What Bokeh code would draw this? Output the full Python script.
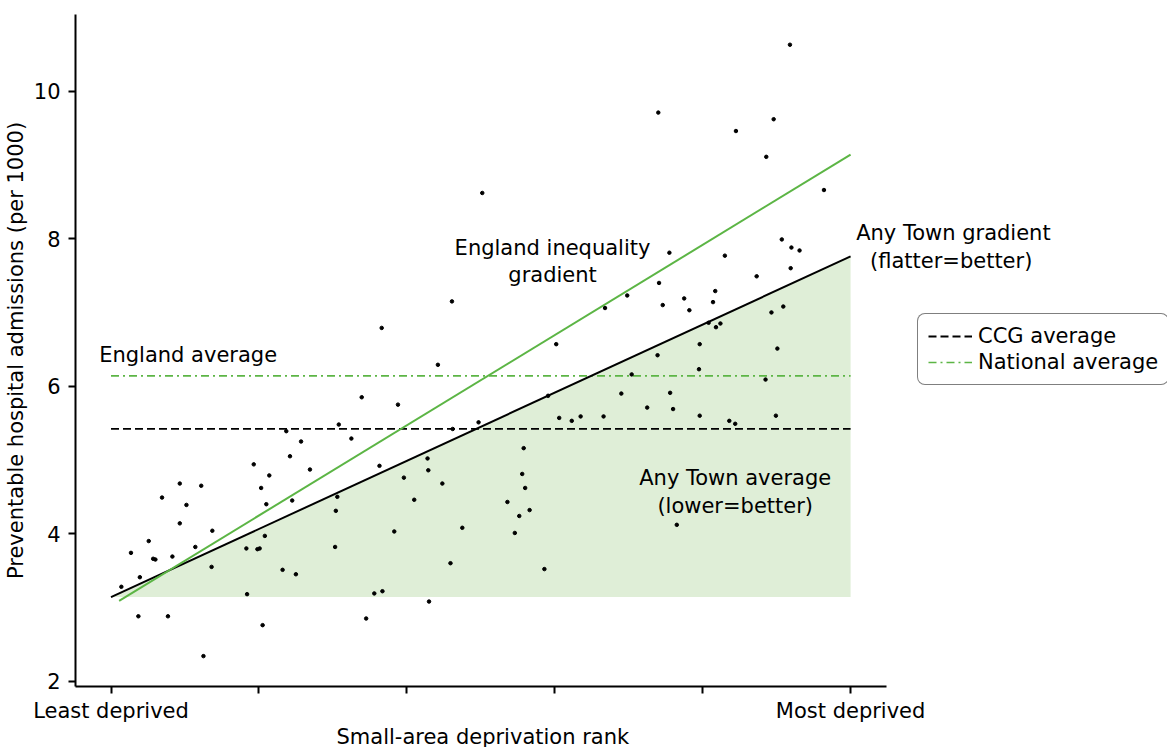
from bokeh.plotting import figure
from bokeh.models import (Label, Legend, LegendItem, FixedTicker, Range1d, Title)
from bokeh.embed import file_html
from bokeh.resources import INLINE

# ---- data ----
rank = [0.339, 0.308, 0.237, 0.325, 0.257, 0.242, 0.193, 0.269, 0.214, 0.093,
        0.122, 0.203, 0.069, 0.306, 0.102, 0.210, 0.245, 0.304, 0.093, 0.137,
        0.208, 0.051, 0.027, 0.114, 0.183, 0.198, 0.201, 0.303, 0.057, 0.060,
        0.083, 0.136, 0.232, 0.250, 0.039, 0.014, 0.184, 0.037, 0.077, 0.345,
        0.205, 0.125,
        0.502, 0.461, 0.366, 0.668, 0.698, 0.602,
        0.442, 0.388, 0.591, 0.690, 0.606, 0.623, 0.635, 0.666, 0.497, 0.462,
        0.558, 0.363, 0.428, 0.429, 0.396, 0.448, 0.556, 0.560, 0.410, 0.536,
        0.566, 0.552, 0.383, 0.475, 0.546, 0.459, 0.586, 0.356, 0.367, 0.430,
        0.918, 0.740, 0.896, 0.845, 0.886, 0.964, 0.755, 0.907, 0.920, 0.931,
        0.830, 0.919, 0.741, 0.873, 0.775, 0.817, 0.746, 0.814, 0.782, 0.909,
        0.893, 0.808, 0.824, 0.818, 0.796, 0.901,
        0.739, 0.795, 0.704, 0.885, 0.756, 0.725, 0.760, 0.796, 0.836, 0.844,
        0.899, 0.765]
admissions = [5.85, 5.48, 5.39, 5.29, 5.25, 5.05, 4.94, 4.87, 4.79, 4.68,
              4.65, 4.62, 4.49, 4.50, 4.39, 4.40, 4.45, 4.31, 4.14, 4.04,
              3.97, 3.90, 3.74, 3.82, 3.80, 3.79, 3.80, 3.82, 3.66, 3.65,
              3.69, 3.55, 3.51, 3.45, 3.41, 3.28, 3.18, 2.88, 2.88, 2.85,
              2.76, 2.34,
              8.62, 7.15, 6.79, 7.06, 7.23, 6.57,
              6.29, 5.75, 5.87, 5.90, 5.57, 5.53, 5.59, 5.59, 5.51, 5.42,
              5.16, 4.92, 5.02, 4.86, 4.76, 4.68, 4.81, 4.62, 4.46, 4.43,
              4.32, 4.24, 4.03, 4.08, 4.01, 3.60, 3.52, 3.19, 3.22, 3.08,
              10.63, 9.71, 9.62, 9.46, 9.11, 8.66, 7.81, 7.99, 7.88, 7.84,
              7.77, 7.60, 7.40, 7.49, 7.19, 7.29, 7.10, 7.14, 7.03, 7.08,
              7.00, 6.86, 6.85, 6.80, 6.57, 6.51,
              6.42, 6.23, 6.16, 6.09, 5.91, 5.71, 5.69, 5.60, 5.53, 5.49,
              5.60, 4.12]

ccg_average = 5.42
national_average = 6.14
town_grad_x = [0.0, 1.0]
town_grad_y = [3.14, 7.76]
england_grad_x = [0.011, 1.0]
england_grad_y = [3.09, 9.14]
avg_x = [0.0, 1.0]

x_ticks = [0, 0.2, 0.4, 0.6, 0.8, 1]
x_tick_labels = ["Least deprived", "", "", "", "", "Most deprived"]
y_ticks = [2, 4, 6, 8, 10]

FONT = "DejaVu Sans"
FS = "21px"
GREEN = "#5cb545"
FILL = "#dfeed7"

p = figure(frame_width=1092, frame_height=672, output_backend="svg",
           toolbar_location=None,
           x_range=Range1d(-0.048, 1.4285), y_range=Range1d(1.928, 11.04),
           min_border_left=69, min_border_right=0, min_border_top=14,
           min_border_bottom=61)
p.outline_line_color = None
p.grid.visible = False

# fill under town gradient
p.varea(x=town_grad_x, y1=[town_grad_y[0]] * 2, y2=town_grad_y, fill_color=FILL)

r_ccg = p.line(avg_x, [ccg_average] * 2, line_color="black", line_width=1.8,
               line_dash="8 4")
r_nat = p.line(avg_x, [national_average] * 2, line_color=GREEN, line_width=1.6,
               line_dash="8 4 2 4")
p.line(town_grad_x, town_grad_y, line_color="black", line_width=2)
p.line(england_grad_x, england_grad_y, line_color=GREEN, line_width=2)
p.scatter(rank, admissions, size=3.5, color="black")

# axes
p.xaxis.ticker = FixedTicker(ticks=x_ticks)
p.xaxis.major_label_overrides = {t: l for t, l in zip(x_ticks, x_tick_labels)}
p.xaxis.bounds = (-0.048, 1.048)
p.yaxis.ticker = FixedTicker(ticks=y_ticks)
p.yaxis.axis_label = "Preventable hospital admissions (per 1000)"
for ax in (p.xaxis[0], p.yaxis[0]):
    ax.axis_line_width = 2
    ax.major_tick_line_width = 2
    ax.major_tick_out = 7
    ax.major_tick_in = 0
    ax.minor_tick_line_color = None
    ax.major_label_text_font = FONT
    ax.major_label_text_font_size = FS
    ax.major_label_text_color = "black"
    ax.axis_label_text_font = FONT
    ax.axis_label_text_font_size = FS
    ax.axis_label_text_font_style = "normal"
    ax.axis_label_text_color = "black"
p.yaxis.major_label_standoff = 8
p.yaxis.axis_label_standoff = 3
p.xaxis.major_label_standoff = 5

p.add_layout(Title(text="Small-area deprivation rank", align="left", offset=261,
                   standoff=-6, vertical_align="bottom", text_font=FONT,
                   text_font_size=FS, text_font_style="normal",
                   text_color="black"), "below")

# annotations
def lab(x, y, t, align="center"):
    p.add_layout(Label(x=x, y=y, text=t, text_align=align, text_baseline="middle",
                       text_font=FONT, text_font_size=FS, text_color="black"))

lab(-0.016, 6.42, "England average", "left")
lab(0.597, 7.88, "England inequality")
lab(0.597, 7.51, "gradient")
lab(1.139, 8.08, "Any Town gradient")
lab(1.136, 7.70, "(flatter=better)")
lab(0.844, 4.75, "Any Town average")
lab(0.844, 4.38, "(lower=better)")

legend = Legend(items=[LegendItem(label="CCG average", renderers=[r_ccg]),
                       LegendItem(label="National average", renderers=[r_nat])],
                location=(842, 301), border_line_color="black", border_line_width=1.5,
                label_text_font=FONT, label_text_font_size=FS,
                label_text_color="black",
                glyph_width=44, glyph_height=22, label_height=22, spacing=2,
                padding=10, margin=0, label_standoff=6)
if "border_radius" in Legend.properties():
    legend.border_radius = 8
p.add_layout(legend, "center")

open("out.html", "w").write(file_html(p, INLINE))
